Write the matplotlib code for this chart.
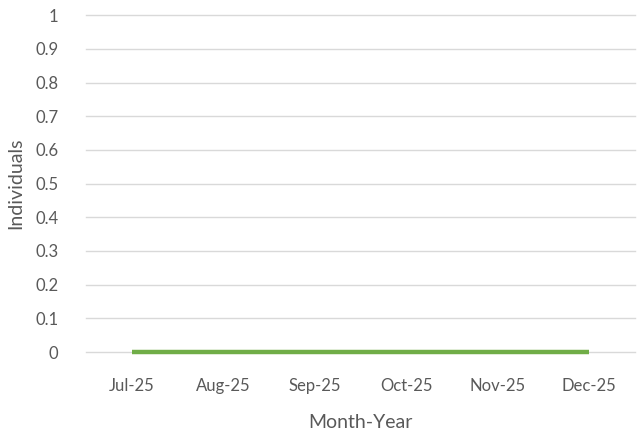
import matplotlib
matplotlib.use("Agg")
import matplotlib.pyplot as plt

months = ["Jul-25", "Aug-25", "Sep-25", "Oct-25", "Nov-25", "Dec-25"]
individuals = [0, 0, 0, 0, 0, 0]
y_ticks = [0, 0.1, 0.2, 0.3, 0.4, 0.5, 0.6, 0.7, 0.8, 0.9, 1]

plt.rcParams['font.family'] = ['Lato', 'DejaVu Sans']
fig = plt.figure(figsize=(6.37, 4.32), dpi=100)
ax = fig.add_axes([0.135, 0.185, 0.862, 0.78])
x = list(range(len(months)))
ax.plot(x, individuals, color="#70AD47", linewidth=3.2, solid_capstyle="butt",
        zorder=3, clip_on=False)
ax.set_xlim(-0.5, len(months) - 0.5)
ax.set_ylim(0, 1)
ax.set_yticks(y_ticks)
ax.set_yticklabels([f"{v:g}" for v in y_ticks])
ax.set_xticks(x)
ax.set_xticklabels(months)
ax.grid(axis="y", color="#D9D9D9", linewidth=1, clip_on=False)
ax.set_axisbelow(True)
for s in ax.spines.values():
    s.set_visible(False)
ax.tick_params(axis="both", length=0, labelsize=12, colors="#595959")
ax.tick_params(axis="x", pad=19)
ax.tick_params(axis="y", pad=20)
ax.set_xlabel("Month-Year", fontsize=14, color="#595959", labelpad=14)
ax.set_ylabel("Individuals", fontsize=14, color="#595959", labelpad=8)
fig.savefig("out.png", dpi=100)
